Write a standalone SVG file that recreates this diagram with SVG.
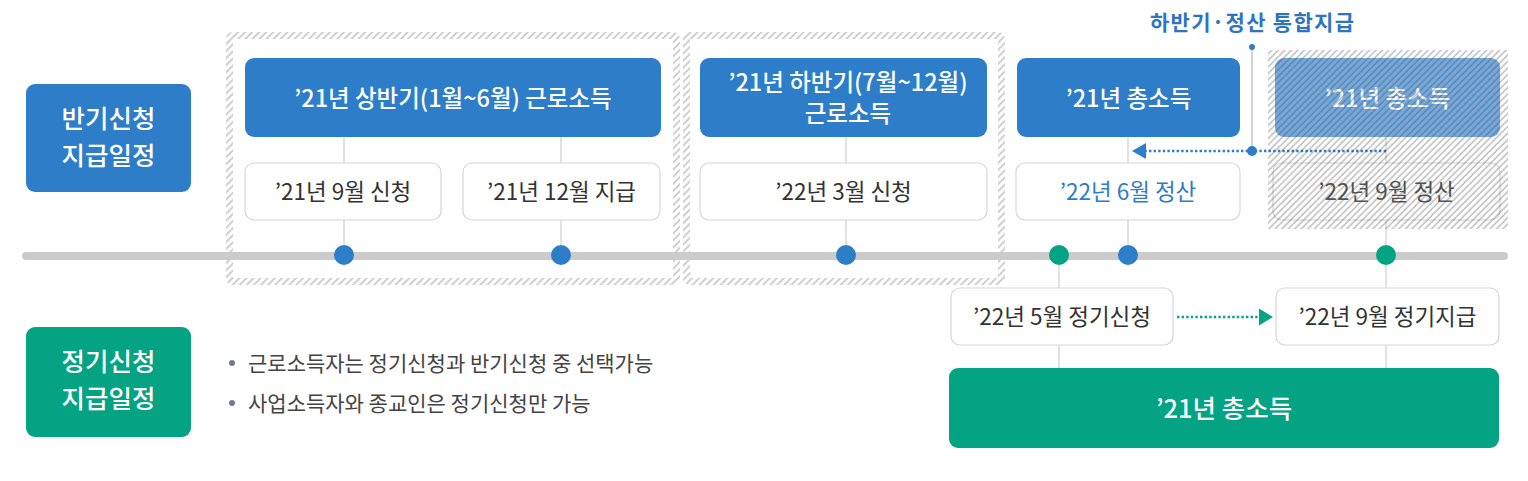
<svg xmlns="http://www.w3.org/2000/svg" width="1528" height="481" viewBox="0 0 1528 481">
<defs>
<style>
text{font-family:"Noto Sans CJK KR","Noto Sans",sans-serif;text-anchor:middle}
.blue{fill:#2e7dc8}
.green{fill:#04a383}
.wbox{fill:#fff;stroke:#d6d6d6;stroke-width:1.2}
.hd{fill:#fff;font-size:23.5px;font-weight:500}
.wt{fill:#333;font-size:22.5px}
.lbl{fill:#fff;font-size:25.5px;font-weight:500}
.bul{fill:#444;font-size:21px;text-anchor:start}
.conn{stroke:#cfcfcf;stroke-width:1.2;fill:none}
</style>
<pattern id="hatch" width="5" height="5" patternUnits="userSpaceOnUse" patternTransform="rotate(45)">
<line x1="1" y1="0" x2="1" y2="5" stroke="#a8a8a8" stroke-width="1.1"/>
</pattern>
<pattern id="hatch2" width="4.6" height="4.6" patternUnits="userSpaceOnUse" patternTransform="rotate(45)">
<line x1="1" y1="0" x2="1" y2="4.6" stroke="#3c3c3c" stroke-opacity="0.5" stroke-width="1"/>
</pattern>
<marker id="arrB" markerWidth="14" markerHeight="16" refX="1" refY="8" orient="auto" markerUnits="userSpaceOnUse">
<path d="M0,0 L14,8 L0,16 Z" fill="#2e7dc8"/>
</marker>
<marker id="arrG" markerWidth="14" markerHeight="17" refX="1" refY="8.5" orient="auto" markerUnits="userSpaceOnUse">
<path d="M0,0 L14,8.5 L0,17 Z" fill="#04a383"/>
</marker>
</defs>
<rect width="1528" height="481" fill="#fff"/>

<g id="group-first-half">
<rect x="229.5" y="35.5" width="447" height="246" rx="3" fill="none" stroke="url(#hatch)" stroke-width="7"/>
</g>
<g id="group-second-half">
<rect x="686.5" y="35.5" width="315" height="246" rx="3" fill="none" stroke="url(#hatch)" stroke-width="7"/>
</g>

<g id="timeline">
<line x1="26" y1="256" x2="1504" y2="256" stroke="#cbcbcb" stroke-width="8" stroke-linecap="round"/>
</g>

<g id="connectors">
<line class="conn" x1="344" y1="137" x2="344" y2="163"/>
<line class="conn" x1="344" y1="220" x2="344" y2="256"/>
<line class="conn" x1="561" y1="137" x2="561" y2="163"/>
<line class="conn" x1="561" y1="220" x2="561" y2="256"/>
<line class="conn" x1="846" y1="137" x2="846" y2="163"/>
<line class="conn" x1="846" y1="220" x2="846" y2="256"/>
<line class="conn" x1="1128" y1="137" x2="1128" y2="163"/>
<line class="conn" x1="1128" y1="220" x2="1128" y2="256"/>
<line class="conn" x1="1386" y1="137" x2="1386" y2="163"/>
<line class="conn" x1="1386" y1="220" x2="1386" y2="288"/>
<line class="conn" x1="1059" y1="256" x2="1059" y2="288"/>
<line class="conn" x1="1059" y1="345" x2="1059" y2="368"/>
<line class="conn" x1="1386" y1="345" x2="1386" y2="368"/>
<line x1="1252" y1="47" x2="1252" y2="151" stroke="#c4c4c4" stroke-width="1.5"/>
<circle cx="1252" cy="47" r="3" fill="#2e7dc8"/>
<line x1="1386" y1="151" x2="1145" y2="151" stroke="#2e7dc8" stroke-width="2.6" stroke-dasharray="2.4 2.2" marker-end="url(#arrB)"/>
<circle cx="1252" cy="151" r="5" fill="#2e7dc8"/>
<line x1="1177" y1="317" x2="1260" y2="317" stroke="#04a383" stroke-width="2.6" stroke-dasharray="2.4 2.2" marker-end="url(#arrG)"/>
</g>

<g id="dots">
<circle cx="344" cy="255" r="10" fill="#2e7dc8"/>
<circle cx="561" cy="255" r="10" fill="#2e7dc8"/>
<circle cx="846" cy="255" r="10" fill="#2e7dc8"/>
<circle cx="1128" cy="255" r="10" fill="#2e7dc8"/>
<circle cx="1059" cy="255" r="10" fill="#04a383"/>
<circle cx="1386" cy="255" r="10" fill="#04a383"/>
</g>

<g id="label-half">
<rect class="blue" x="26" y="84" width="165" height="108" rx="9"/>
<text class="lbl" x="108.5" y="127.5">반기신청</text>
<text class="lbl" x="108.5" y="164.5">지급일정</text>
</g>
<g id="label-regular">
<rect class="green" x="26" y="327" width="165" height="110" rx="9"/>
<text class="lbl" x="108.5" y="370.5">정기신청</text>
<text class="lbl" x="108.5" y="407.5">지급일정</text>
</g>

<g id="node-h1-income">
<rect class="blue" x="245" y="58" width="416" height="79" rx="9"/>
<text class="hd" x="453" y="106.5">’21년 상반기(1월~6월) 근로소득</text>
</g>
<g id="node-h1-apply">
<rect class="wbox" x="245" y="163" width="196" height="57" rx="9"/>
<text class="wt" x="343" y="200">’21년 9월 신청</text>
</g>
<g id="node-h1-pay">
<rect class="wbox" x="463" y="163" width="197" height="57" rx="9"/>
<text class="wt" x="561.5" y="200">’21년 12월 지급</text>
</g>
<g id="node-h2-income">
<rect class="blue" x="700" y="58" width="287" height="79" rx="9"/>
<text class="hd" x="848" y="91">’21년 하반기(7월~12월)</text>
<text class="hd" x="848" y="122">근로소득</text>
</g>
<g id="node-h2-apply">
<rect class="wbox" x="700" y="163" width="287" height="57" rx="9"/>
<text class="wt" x="843.5" y="200">’22년 3월 신청</text>
</g>
<g id="node-total-income">
<rect class="blue" x="1017" y="58" width="223" height="79" rx="9"/>
<text class="hd" x="1128.5" y="106.5">’21년 총소득</text>
</g>
<g id="node-june-settle">
<rect class="wbox" x="1016" y="163" width="224" height="57" rx="9"/>
<text class="wt" x="1128" y="200" style="fill:#2e7dc8">’22년 6월 정산</text>
</g>
<g id="node-total-income-hatched">
<rect x="1275" y="58" width="225" height="79" rx="9" fill="#74a9de"/>
<text class="hd" x="1387.5" y="106.5">’21년 총소득</text>
</g>
<g id="node-sept-settle-hatched">
<rect class="wbox" x="1273" y="163" width="227" height="57" rx="9"/>
<text class="wt" x="1386.5" y="200" style="fill:#555">’22년 9월 정산</text>
</g>
<g id="hatch-overlay">
<rect x="1268" y="50" width="240" height="179" fill="url(#hatch2)"/>
</g>

<g id="title-combined">
<text x="1252" y="30" textLength="204" style="fill:#2e74c0;font-size:21px;font-weight:bold">하반기·정산 통합지급</text>
</g>

<g id="node-may-apply">
<rect class="wbox" x="951" y="288" width="222" height="57" rx="9"/>
<text class="wt" x="1062" y="325">’22년 5월 정기신청</text>
</g>
<g id="node-sept-pay">
<rect class="wbox" x="1276" y="288" width="223" height="57" rx="9"/>
<text class="wt" x="1387.5" y="325">’22년 9월 정기지급</text>
</g>
<g id="node-total-income-regular">
<rect class="green" x="949" y="368" width="550" height="80" rx="9"/>
<text class="hd" x="1224" y="417.5" style="font-size:25.5px">’21년 총소득</text>
</g>

<g id="notes">
<circle cx="232" cy="363" r="3" fill="#6e7c9a"/>
<text class="bul" x="248" y="371">근로소득자는 정기신청과 반기신청 중 선택가능</text>
<circle cx="232" cy="403" r="3" fill="#6e7c9a"/>
<text class="bul" x="248" y="411">사업소득자와 종교인은 정기신청만 가능</text>
</g>
</svg>
